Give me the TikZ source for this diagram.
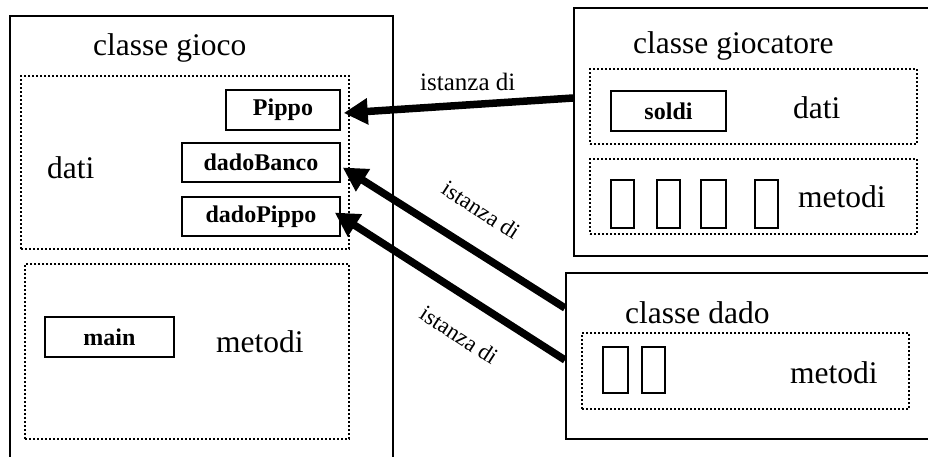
\documentclass[tikz,border=0pt]{standalone}
\usepackage{fontspec}
\setmainfont{Liberation Serif}
\usetikzlibrary{arrows.meta,calc}
\begin{document}
\begin{tikzpicture}[x=1pt,y=-1pt,
  classbox/.style={draw,line width=1.8pt,inner sep=0pt},
  partbox/.style={draw,line width=2pt,dash pattern=on 2pt off 2pt,inner sep=0pt},
  fieldbox/.style={draw,line width=1.5pt,inner sep=0pt,font=\fontsize{24}{28}\selectfont\bfseries},
  methbox/.style={draw,line width=1.5pt,inner sep=0pt,minimum width=23,minimum height=48},
  bigtext/.style={inner sep=0pt,font=\fontsize{31.5}{36}\selectfont},
  lbl/.style={inner sep=0pt,font=\fontsize{25}{30}\selectfont},
  rlbl/.style={inner sep=0pt,font=\fontsize{23}{28}\selectfont,rotate=-33},
  inst/.style={line width=7.5pt,-{Triangle[length=24pt,width=25pt]}}]
\useasboundingbox (0,0) rectangle (928,456);
\clip (0,0) rectangle (928,456);
% class gioco
\node[classbox,minimum width=383,minimum height=450,anchor=north west] (gioco) at (9,15) {};
\node[bigtext,anchor=base west] (tgioco) at (93,55) {classe gioco};
\node[partbox,minimum width=328,minimum height=173,anchor=north west] (datiA) at (20,75) {};
\node[bigtext,anchor=base west] (tdatiA) at (47,178) {dati};
\node[fieldbox,minimum width=114,minimum height=40] (pippo) at (283,110) {Pippo};
\node[fieldbox,minimum width=158,minimum height=39] (banco) at (261,162.5) {dadoBanco};
\node[fieldbox,minimum width=158,minimum height=39] (dpippo) at (261,216.5) {dadoPippo};
\node[partbox,minimum width=324,minimum height=175,anchor=north west] (metA) at (24,263) {};
\node[fieldbox,minimum width=129,minimum height=40] (main) at (109.5,337) {main};
\node[bigtext,anchor=base west] (tmetA) at (216,352) {metodi};
% class giocatore
\node[classbox,minimum width=380,minimum height=248,anchor=north west] (gioc) at (573,7) {};
\node[bigtext,anchor=base west] (tgioc) at (633,53) {classe giocatore};
\node[partbox,minimum width=327,minimum height=75,anchor=north west] (datiB) at (589,68) {};
\node[fieldbox,minimum width=115,minimum height=40] (soldi) at (668.5,111) {soldi};
\node[bigtext,anchor=base west] (tdatiB) at (793,118) {dati};
\node[partbox,minimum width=327,minimum height=75,anchor=north west] (metB) at (589,158) {};
\node[methbox] (m1) at (622.5,204) {};
\node[methbox] (m2) at (668.5,204) {};
\node[methbox,minimum width=25] (m3) at (713.5,204) {};
\node[methbox] (m4) at (766.5,204) {};
\node[bigtext,anchor=base west] (tmetB) at (798,207) {metodi};
% class dado
\node[classbox,minimum width=380,minimum height=166,anchor=north west] (dado) at (565,272) {};
\node[bigtext,anchor=base west] (tdado) at (625,323) {classe dado};
\node[partbox,minimum width=327,minimum height=76,anchor=north west] (metC) at (581,332) {};
\node[methbox,minimum width=25,minimum height=46] (d1) at (615.5,370) {};
\node[methbox,minimum width=23,minimum height=46] (d2) at (653.5,370) {};
\node[bigtext,anchor=base west] (tmetC) at (790,383) {metodi};
% connectors
\coordinate (s1) at ($(gioc.north west)+(0,91)$);
\coordinate (s2) at ($(dado.north west)+(0,36)$);
\coordinate (s3) at ($(dado.north west)+(0,88)$);
\draw[inst] (s1) -- ($(pippo.east)+(3,3)$);
\draw[inst] (s2) -- ($(banco.east)+(2,5)$);
\draw[inst] (s3) -- ($(dpippo.east)+(-6,-4)$);
\node[lbl,anchor=base west] (l1) at (420,90) {istanza di};
\node[rlbl] (l2) at (481,210) {istanza di};
\node[rlbl] (l3) at (459,335) {istanza di};
\end{tikzpicture}
\end{document}
